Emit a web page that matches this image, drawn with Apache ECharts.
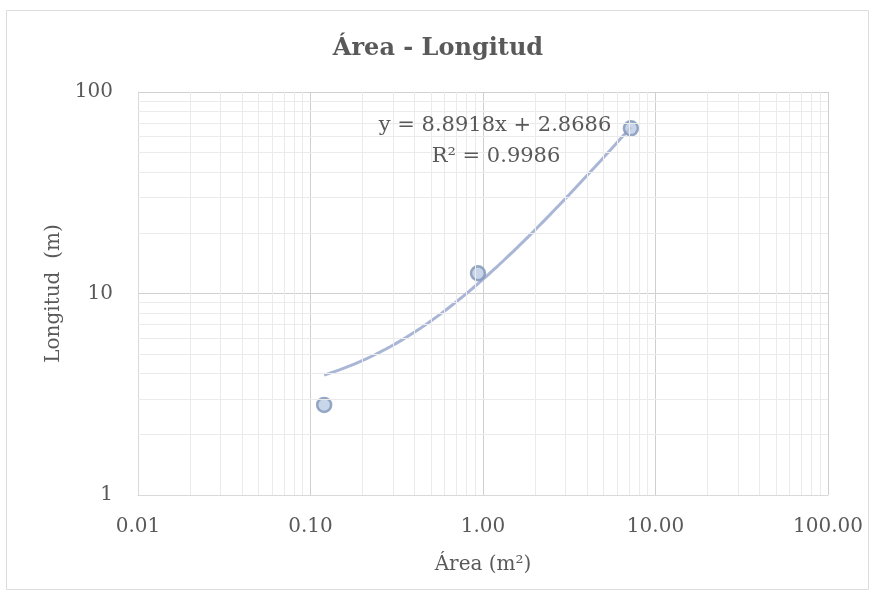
<!DOCTYPE html>
<html>
<head>
<meta charset="utf-8">
<script src="https://cdn.jsdelivr.net/npm/echarts@6/dist/echarts.min.js"></script>
<style>html,body{margin:0;padding:0;background:#fff}#c{width:876px;height:598px}</style>
</head>
<body>
<div id="c"></div>
<script>
// Data
var areaValues = [0.12, 0.935, 7.2];
var longitudValues = [2.8, 12.6, 66];
// Trendline as displayed on the chart: y = 8.8918x + 2.8686
var trendSlope = 8.8918;
var trendIntercept = 2.8686;
var trendLabel = ['y = 8.8918x + 2.8686', 'R² = 0.9986'];
var xTickLabels = ['0.01', '0.10', '1.00', '10.00', '100.00'];
var yTickLabels = ['1', '10', '100'];
var xMinorTicks = [0.02,0.03,0.04,0.05,0.06,0.07,0.08,0.09,0.2,0.3,0.4,0.5,0.6,0.7,0.8,0.9,2,3,4,5,6,7,8,9,20,30,40,50,60,70,80,90];
var yMinorTicks = [2,3,4,5,6,7,8,9,20,30,40,50,60,70,80,90];

var points = areaValues.map(function (x, i) { return [x, longitudValues[i]]; });
// trendline sampled across the data range
var trend = [];
var x0 = Math.log10(areaValues[0]), x1 = Math.log10(areaValues[areaValues.length - 1]);
for (var k = 0; k <= 60; k++) {
  var x = Math.pow(10, x0 + (x1 - x0) * k / 60);
  trend.push([x, trendSlope * x + trendIntercept]);
}

var minorLines = [];
xMinorTicks.forEach(function (v) { minorLines.push({ xAxis: v }); });
yMinorTicks.forEach(function (v) { minorLines.push({ yAxis: v }); });

var font = '"DejaVu Serif", "Liberation Serif", serif';
var chart = echarts.init(document.getElementById('c'), null, { renderer: 'canvas' });
chart.setOption({
  backgroundColor: '#ffffff',
  animation: false,
  title: {
    text: 'Área - Longitud', left: 'center', top: 32,
    textStyle: { fontFamily: font, fontSize: 24, fontWeight: 'bold', color: '#595959' }
  },
  grid: { left: 138, right: 48, top: 92, bottom: 103 },
  xAxis: {
    type: 'log', logBase: 10, min: 0.01, max: 100,
    name: 'Área (m²)', nameLocation: 'middle', nameGap: 60,
    nameTextStyle: { fontFamily: font, fontSize: 20, color: '#595959' },
    axisLine: { show: true, lineStyle: { color: '#d9d9d9', width: 1 } },
    axisTick: { show: false },
    axisLabel: {
      fontFamily: font, fontSize: 20, color: '#595959', margin: 22,
      formatter: function (v) { return xTickLabels[Math.round(Math.log10(v)) + 2]; }
    },
    splitLine: { show: true, lineStyle: { color: '#d0d0d0', width: 1 } }
  },
  yAxis: {
    type: 'log', logBase: 10, min: 1, max: 100,
    name: 'Longitud  (m)', nameLocation: 'middle', nameGap: 72,
    nameTextStyle: { fontFamily: font, fontSize: 20, color: '#595959' },
    axisLine: { show: true, lineStyle: { color: '#d9d9d9', width: 1 } },
    axisTick: { show: false },
    axisLabel: {
      fontFamily: font, fontSize: 20, color: '#595959', margin: 25,
      formatter: function (v) { return yTickLabels[Math.round(Math.log10(v))]; }
    },
    splitLine: { show: true, lineStyle: { color: '#d0d0d0', width: 1 } }
  },
  graphic: [
    { type: 'rect', silent: true, z: -10, shape: { x: 6.5, y: 10.5, width: 862, height: 579 },
      style: { fill: 'none', stroke: '#dcdcdc', lineWidth: 1 } },
    { type: 'text', x: 495, y: 126, z: 100,
      style: { text: trendLabel[0], font: '21px ' + font, fill: '#595959', align: 'center', verticalAlign: 'middle' } },
    { type: 'text', x: 496, y: 157, z: 100,
      style: { text: trendLabel[1], font: '21px ' + font, fill: '#595959', align: 'center', verticalAlign: 'middle' } }
  ],
  series: [
    {
      name: 'grid-minor', type: 'line', data: [], silent: true,
      markLine: {
        silent: true, symbol: 'none', label: { show: false },
        lineStyle: { color: '#ebebeb', width: 1, type: 'solid' },
        data: minorLines, animation: false
      }
    },
    {
      name: 'Tendencia', type: 'line', data: trend, showSymbol: false, smooth: false,
      lineStyle: { color: '#a9b6d6', width: 3 }, z: 3
    },
    {
      name: 'Datos', type: 'scatter', data: points, symbol: 'circle', symbolSize: 14,
      itemStyle: { color: '#bccbe3', borderColor: '#7e94b6', borderWidth: 2.5 }, z: 4
    }
  ]
});
</script>
</body>
</html>
